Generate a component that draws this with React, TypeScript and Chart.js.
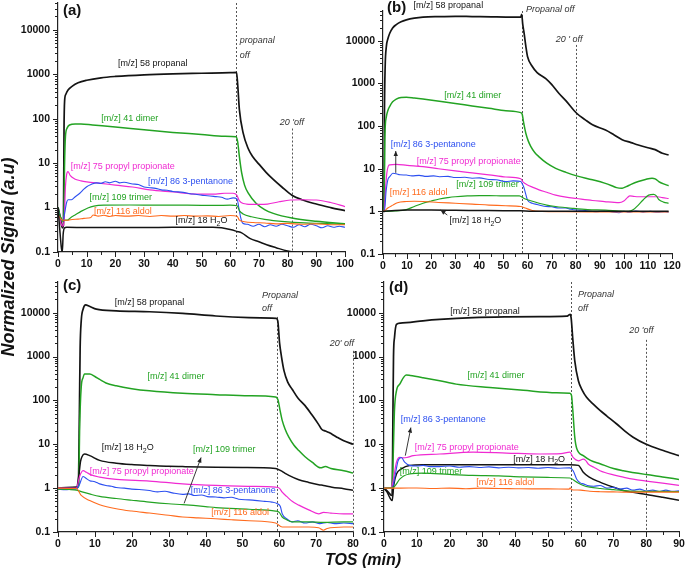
import React, { useEffect, useRef } from 'react';
import { Chart, registerables } from 'chart.js';

Chart.register(...registerables);

// ---------------- DATA (x = TOS min, y = normalized signal) ----------------
type P = [number, number];

// Panel (a)
const aPropanal: P[] = [[0,1.0],[0.8,0.6],[1.5,0.35],[1.9,0.4],[2.1,60],[2.3,250],[2.7,350],[3.5,440],[5,540],[7,640],[10,730],[15,830],[20,890],[30,970],[40,1020],[50,1050],[60,1080],[62.2,1100],[62.6,600],[63.2,160],[64.5,48],[66.3,21],[68,13.5],[70,9.5],[72.5,6.2],[75,4.3],[78,2.9],[81.5,1.9],[85,1.5],[90,1.2],[95,1.0],[100,0.85]];
const aDimer: P[] = [[0,1.0],[0.8,0.6],[1.5,0.5],[2.0,0.55],[2.3,10],[2.6,40],[3.2,62],[4,72],[6,76],[8,76],[12,72],[20,65],[30,56],[40,49],[50,44],[58,40],[62,39],[62.6,30],[63.2,14],[64,6],[65,3.2],[66.3,2.1],[69,1.25],[72,0.9],[75,0.74],[81.5,0.58],[90,0.49],[100,0.43]];
const aPropionate: P[] = [[0,0.9],[1,0.45],[1.6,0.38],[2.2,0.6],[2.6,3],[3.0,5.5],[3.5,6.4],[4.3,5.2],[5.8,4.4],[8,4.0],[10,3.8],[15,3.5],[20,3.2],[26,2.9],[32,2.5],[40,2.25],[49,2.0],[55,2.0],[58,2.1],[61,2.1],[62.3,1.9],[63,1.5],[63.8,1.3],[65.7,1.2],[70,1.18],[73,1.2],[77,1.35],[81,1.48],[85,1.5],[90,1.48],[95,1.3],[100,1.05]];
const aPentanone: P[] = [[0,0.9],[1,0.55],[1.8,0.5],[2.3,0.74],[3.0,1.3],[3.5,1.5],[4.7,1.5],[6,1.75],[7.6,2.1],[9,2.6],[10,2.95],[11.5,3.3],[13.4,3.6],[15,3.5],[16.5,3.8],[18,3.6],[20,3.9],[21.5,3.6],[23,3.7],[26,3.4],[28,3.3],[30,2.9],[32,2.8],[34,2.7],[36,2.5],[38,2.45],[40,2.3],[43.6,2.2],[46,2.05],[48,2.0],[50,1.9],[52,1.85],[55,1.76],[57,1.7],[59,1.55],[61,1.65],[62.4,1.55],[63,1.0],[63.6,0.62],[64.3,0.45],[66,0.42],[68,0.38],[70,0.42],[72,0.37],[74,0.41],[76,0.38],[78,0.42],[80,0.39],[82,0.36],[84,0.41],[86,0.37],[88,0.42],[90,0.39],[92,0.35],[94,0.39],[96,0.36],[98,0.38],[100,0.36]];
const aTrimer: P[] = [[0,0.8],[1,0.6],[1.8,0.5],[2.5,0.52],[3.5,0.53],[4.5,0.6],[5.8,0.67],[8,0.82],[10.4,0.98],[12.5,1.08],[16,1.13],[25,1.14],[35,1.13],[45,1.13],[55,1.12],[60,1.13],[62.4,1.1],[63.2,0.85],[64.5,0.72],[67.4,0.62],[72,0.54],[79,0.48],[86,0.45],[92,0.44],[100,0.42]];
const aAldol: P[] = [[0,0.7],[1,0.55],[2,0.52],[3.5,0.52],[5,0.54],[7,0.55],[9,0.57],[10.5,0.58],[11.5,0.6],[12.2,0.68],[14,0.64],[16,0.67],[18,0.63],[20,0.66],[24,0.64],[28,0.66],[32,0.63],[36,0.66],[40,0.64],[44,0.66],[48,0.64],[52,0.65],[56,0.63],[60,0.66],[62.4,0.64],[63.2,0.52],[65,0.48],[68,0.46],[72,0.45],[76,0.43],[80,0.44],[85,0.42],[90,0.43],[95,0.41],[100,0.41]];
const aWater: P[] = [[0,1.0],[0.5,0.4],[1.2,0.12],[1.5,0.1],[1.8,0.25],[2.3,0.35],[3,0.36],[10,0.355],[20,0.355],[30,0.355],[40,0.36],[50,0.36],[54,0.36],[57,0.35],[60,0.32],[62.4,0.29],[64,0.27],[67,0.2],[70,0.17],[72.7,0.146],[76,0.125],[80,0.105],[84,0.095],[90,0.085],[100,0.075]];

// Panel (b)
const bPropanal: P[] = [[0,1.0],[0.4,1.0],[0.6,200],[0.9,2500],[1.4,7400],[2,11000],[2.8,15000],[4,20000],[5.5,24000],[7.5,28000],[9.7,31000],[13,34000],[16.6,36000],[23.4,37000],[30,37500],[37,37000],[45,36500],[51,36000],[57.2,36000],[57.6,42000],[58,25000],[58.6,15000],[59.3,7500],[60,4300],[62,2500],[64,1800],[67.6,1300],[70,950],[73,590],[76,390],[80.4,200],[84,140],[87,107],[92.4,81],[96,62],[99.3,48],[103,41],[106,36],[110,31],[113,28],[116,23],[118.6,21]];
const bDimer: P[] = [[0,1.0],[0.4,1.0],[0.8,60],[1.4,166],[2,230],[2.8,290],[4,370],[5.5,430],[7.5,470],[9.7,475],[13,455],[16.6,430],[23.4,380],[30,340],[37,297],[44,262],[51,230],[57.2,207],[57.8,190],[58.4,120],[59.3,68],[60.3,45],[61.4,33],[63,24],[64.8,19],[68,13.5],[71.7,10.2],[76,8.2],[80.4,6.8],[87,5.5],[92,4.6],[95,4.0],[97,3.6],[99.3,3.5],[101,3.8],[103,4.3],[106,5.0],[109,5.6],[111.7,6.0],[113,5.8],[114.5,5.0],[116.5,4.4],[118.6,4.0]];
const bPropionate: P[] = [[0,1.0],[0.5,1.0],[1,3],[1.6,8],[2.2,11.5],[2.8,12.3],[5.5,12.7],[10,12.0],[16.6,11.2],[23,10],[30,8.9],[37,8],[44,7.2],[51,6.4],[57.2,5.8],[58,5.0],[59,4.5],[60,4.15],[62,3.7],[64.8,3.2],[68,2.8],[71.7,2.4],[76,2.15],[80.4,2.0],[87,1.8],[92,1.7],[96,1.62],[98,1.6],[100,1.75],[101.5,2.1],[102.5,2.3],[104,2.25],[106,2.2],[110,2.2],[114,2.2],[116,2.1],[118.6,2.0]];
const bPentanone: P[] = [[0,1.0],[0.6,1.0],[1.3,3],[2,5.5],[2.8,6.5],[4.1,7.8],[5.5,7.6],[7,7.2],[9.7,7.1],[12,6.8],[15,7.0],[18,6.6],[21,6.8],[23.4,6.5],[27,6.6],[30,6.2],[34,6.3],[37,6.0],[40,6.1],[44,5.6],[47,5.5],[51,5.0],[54,5.2],[57.2,5.0],[58,4.2],[58.6,3.5],[59.3,2.5],[60,1.85],[62,1.55],[64,1.45],[66,1.35],[67.6,1.3],[70,1.28],[73,1.2],[75.9,1.2],[78,1.12],[81.4,1.07],[84,1.05],[88,0.98],[92,1.02],[95,0.97],[98,0.93],[100,1.0],[102,0.95],[105,1.02],[108,0.96],[111,1.0],[114,0.95],[117,0.98],[118.6,0.95]];
const bTrimer: P[] = [[0,1.0],[5,1.02],[9.7,1.1],[13,1.3],[16.6,1.55],[20,1.75],[23.4,1.95],[27,2.1],[30,2.2],[35,2.3],[40,2.35],[44,2.35],[50,2.3],[56.6,2.3],[58.6,2.0],[61,1.8],[64.8,1.55],[68,1.4],[71.7,1.3],[78.6,1.18],[85,1.1],[92.4,1.07],[98,1.02],[102,1.0],[104,1.1],[106,1.4],[108,1.85],[110.3,2.4],[112.4,2.5],[113.5,2.3],[114.5,1.9],[116.5,1.65],[118.6,1.55]];
const bAldol: P[] = [[0,1.0],[0.6,1.03],[2,1.2],[4.1,1.4],[6,1.6],[9.7,1.7],[13,1.72],[16.6,1.7],[23,1.62],[30,1.55],[37,1.48],[44,1.4],[51,1.35],[57.2,1.3],[59,1.2],[62,1.05],[66,1.0],[75,0.98],[85,0.97],[95,0.97],[105,0.97],[118.6,0.97]];
const bWater: P[] = [[0,1.0],[5,1.05],[10,1.07],[20,1.07],[30,1.06],[40,1.05],[50,1.04],[57,1.03],[62,1.0],[80,1.0],[100,1.0],[118.6,1.0]];

// Panel (c)
const cPropanal: P[] = [[0,1.0],[5,1.05],[5.5,1.1],[5.8,50],[6.0,1500],[6.3,6500],[6.8,12000],[7.5,15000],[8.5,14000],[10.4,12000],[15.8,11000],[24.8,10500],[33.8,9600],[42.8,8400],[51.8,7700],[58,7500],[59.2,7400],[59.6,6500],[60.1,2000],[60.6,1000],[61.3,470],[62.3,260],[63.5,180],[65,115],[67,76],[69,45],[70.7,28],[71.5,22],[72.5,20],[73.5,18.5],[74.3,17],[76,14],[77.5,12],[80,10]];
const cDimer: P[] = [[0,1.0],[5,1.0],[5.6,1.1],[5.9,30],[6.3,200],[6.8,330],[7.2,400],[8.6,400],[10,350],[11.3,300],[13,250],[15.8,215],[20,185],[24.8,165],[33.8,145],[42.8,135],[51.8,127],[59,120],[59.7,100],[60.2,60],[60.8,35],[61.6,22],[62.6,14.5],[64,9.5],[65.3,7.2],[67,5.2],[68.9,3.9],[71.2,2.9],[72.5,3.1],[74,2.8],[77.5,2.5],[80,2.2]];
const cWater: P[] = [[0,1.0],[5,1.02],[5.6,1.8],[6.1,4],[6.5,5.2],[7.2,6.0],[8.6,5.5],[11.3,4.3],[15.8,3.7],[20,3.45],[24.8,3.3],[30,3.15],[33.8,3.1],[42.8,3.0],[50,2.95],[59,2.8],[60.4,2.5],[61.5,2.2],[62.6,1.95],[65.3,1.55],[68,1.35],[70.7,1.2],[72,1.15],[74.3,1.05],[77.5,0.97],[80,0.9]];
const cPropionate: P[] = [[0,1.0],[5,1.0],[5.8,1.8],[6.8,2.5],[7.7,2.3],[9,2.0],[11.3,1.78],[15.8,1.58],[24.8,1.45],[33.8,1.25],[42.8,1.15],[51.8,1.1],[59,1.05],[60,1.0],[60.8,0.81],[62,0.65],[63.5,0.5],[65.3,0.41],[68,0.32],[70.7,0.26],[72,0.28],[74,0.27],[77.5,0.26],[80,0.26]];
const cPentanone: P[] = [[0,0.95],[2,0.92],[4,0.95],[5,0.96],[5.8,1.2],[6.8,1.84],[7.5,1.7],[8.6,1.48],[10,1.4],[11.3,1.25],[13,1.15],[14.5,1.1],[15.8,1.03],[18,1.0],[20,0.95],[22,0.93],[24.8,0.88],[27,0.82],[29,0.85],[31,0.78],[33.8,0.72],[35.5,0.74],[37,0.68],[39,0.7],[40.5,0.64],[42.8,0.63],[45,0.6],[47,0.62],[49,0.56],[51.8,0.54],[54,0.52],[56,0.5],[58,0.48],[59.5,0.44],[60.3,0.38],[60.8,0.26],[62,0.2],[63.5,0.17],[65,0.18],[67,0.16],[69,0.17],[71,0.155],[73,0.165],[75,0.155],[77.5,0.16],[80,0.155]];
const cTrimer: P[] = [[0,0.95],[3,0.93],[5,0.9],[6.8,0.81],[9,0.72],[11.3,0.65],[15.8,0.58],[20,0.53],[24.8,0.48],[30,0.44],[33.8,0.42],[40,0.38],[42.8,0.36],[51.8,0.33],[59,0.3],[60,0.28],[60.8,0.22],[62,0.19],[63.5,0.17],[68,0.17],[72,0.165],[77.5,0.17],[80,0.17]];
const cAldol: P[] = [[0,1.0],[4,0.98],[5,0.98],[6.3,0.68],[8.6,0.52],[11.3,0.42],[15.8,0.34],[20,0.3],[24.8,0.27],[30,0.24],[33.8,0.22],[38,0.21],[42.8,0.2],[47,0.19],[51.8,0.18],[59,0.16],[60.8,0.13],[64,0.13],[68,0.13],[70.7,0.125],[72,0.11],[73,0.12],[77.5,0.13],[80,0.13]];

// Panel (d)
const dPropanal: P[] = [[0,1.0],[0.7,0.9],[1.7,0.75],[2.2,0.68],[2.5,0.7],[2.7,30],[2.9,1000],[3.2,2700],[3.8,5400],[5,5800],[6.8,5900],[11.9,6500],[17,7000],[27.2,7700],[37.4,8000],[47.6,8100],[55.7,8300],[56.4,8800],[56.8,9200],[57.1,7500],[57.6,2500],[58.2,800],[59.3,280],[60.5,170],[61.8,118],[64,80],[65.9,59],[68,44],[71,29],[73.5,20],[76,14.5],[80,10],[85.2,7.2],[90,5.5]];
const dDimer: P[] = [[0,1.0],[2.5,1.0],[2.8,5],[3.2,60],[3.8,165],[4.8,235],[6.8,380],[8,370],[11.9,330],[17,280],[22,235],[32.3,197],[42.5,170],[52.6,150],[56.7,145],[57.2,130],[57.6,60],[58.2,14.5],[58.8,8],[60.8,5.5],[63,4.3],[65.9,3.6],[70,2.8],[73,2.5],[80,2.04],[85,1.8],[90,1.58]];
const dPropionate: P[] = [[0,1.0],[2.2,1.0],[2.8,1.5],[3.8,3.9],[4.8,5.0],[5.8,4.9],[7,5.0],[8.9,5.5],[17,6.0],[27.2,6.6],[37.4,6.3],[47.6,6.0],[54,6.1],[56.7,6.6],[57.7,5.0],[59.3,4.2],[60.8,4.6],[61.5,4.3],[62.3,3.55],[64,3.0],[65.9,2.5],[70,2.0],[73,1.78],[76,1.6],[80,1.45],[85,1.3],[90,1.15]];
const dPentanone: P[] = [[0,1.0],[2,1.0],[2.5,0.98],[3.3,1.78],[4.3,4.2],[5.3,5.0],[6.3,3.9],[7.8,3.3],[10,3.2],[12,3.3],[14,3.1],[17,3.1],[20,3.2],[23,3.0],[26,3.1],[29,2.95],[32,3.05],[35,2.9],[38,3.0],[41,2.9],[44,2.95],[47,2.85],[50,2.95],[53,2.85],[56.7,2.9],[57.7,2.5],[58.8,1.6],[60,1.3],[60.8,1.25],[62,1.15],[64,1.1],[65.9,1.15],[68,1.0],[70,1.05],[72,0.95],[74,1.0],[76,0.9],[78,0.95],[80,0.86],[82,0.9],[84,0.84],[86,0.9],[88,0.85],[90,0.87]];
const dTrimer: P[] = [[0,1.0],[2.75,1.03],[4.8,1.6],[6,1.9],[7.8,2.1],[11.9,2.2],[20,2.05],[27,1.95],[35,1.9],[42,1.8],[50,1.75],[56.7,1.7],[58.8,1.37],[60.8,1.15],[62.8,1.05],[66,0.98],[70,0.92],[73,0.88],[80,0.84],[85,0.84],[90,0.83]];
const dAldol: P[] = [[0,1.0],[5,1.0],[10,1.01],[15,0.98],[20,1.0],[25,0.97],[30,1.0],[35,0.98],[40,0.97],[45,0.96],[50,0.96],[56.5,0.95],[56.8,1.02],[57.2,0.93],[57.7,0.91],[60,0.9],[62.8,0.85],[66,0.83],[70,0.82],[73,0.81],[80,0.81],[90,0.81]];
const dWater: P[] = [[0,1.0],[1,0.8],[1.7,0.62],[2.5,0.52],[3,1.2],[3.8,2.1],[5.3,2.75],[7.8,3.3],[12,3.4],[20,3.4],[30,3.4],[40,3.4],[50,3.4],[56.7,3.4],[59.3,3.3],[60.8,2.3],[62.5,1.8],[65.9,1.37],[70,1.05],[73,0.88],[76,0.8],[80,0.72],[85,0.62],[90,0.53]];

// axis ticks
const yDecades = [0.1, 1, 10, 100, 1000, 10000];
const xStep = 5;
const xLabelStep = 10;

// ---------------- STYLE ----------------
const BLACK = '#141414';
const GREEN = '#23a323';
const MAGENTA = '#f02ad2';
const BLUE = '#2d50f0';
const ORANGE = '#ff6b1e';
const FONT = '"Liberation Sans", Arial, Helvetica, sans-serif';
const MAJOR_TICK = 5;
const MINOR_TICK = 3;

type TextAnn = { x: number; y: number; text: string; color: string; align?: CanvasTextAlign; italic?: boolean };
type VLine = { x: number; top?: number };
type Arrow = { x1: number; y1: number; x2: number; y2: number; color: string };
type PanelAnn = { tag: string; tagDx: number; tagDy: number; vlines: VLine[]; texts: TextAnn[]; arrows: Arrow[] };

type SeriesSpec = { data: P[]; color: string; width: number };
type PanelSpec = {
  left: number; top: number; w: number; h: number;
  pad: { top: number; right: number };
  yWidth: number; xHeight: number;
  xMax: number; yMax: number;
  series: SeriesSpec[];
  ann: PanelAnn;
};

const H2O = '[m/z] 18 H\u2082O';

const panels: PanelSpec[] = [
  {
    left: 0, top: 0, w: 362, h: 275, pad: { top: 3, right: 17 }, yWidth: 58, xHeight: 23, xMax: 100, yMax: 40000,
    series: [
      { data: aWater, color: BLACK, width: 1.5 },
      { data: aAldol, color: ORANGE, width: 1.1 },
      { data: aTrimer, color: GREEN, width: 1.2 },
      { data: aPentanone, color: BLUE, width: 1.1 },
      { data: aPropionate, color: MAGENTA, width: 1.2 },
      { data: aDimer, color: GREEN, width: 1.5 },
      { data: aPropanal, color: BLACK, width: 1.7 },
    ],
    ann: {
      tag: '(a)', tagDx: 5, tagDy: 8,
      vlines: [{ x: 62 }, { x: 81.5, top: 60 }],
      texts: [
        { x: 33, y: 1700, text: '[m/z] 58 propanal', color: BLACK },
        { x: 63.3, y: 5700, text: 'propanal', color: '#333', align: 'left', italic: true },
        { x: 63.3, y: 2700, text: 'off', color: '#333', align: 'left', italic: true },
        { x: 25, y: 100, text: '[m/z] 41 dimer', color: GREEN },
        { x: 81.5, y: 80, text: "20 'off", color: '#333', italic: true },
        { x: 4.4, y: 8.4, text: '[m/z] 75 propyl propionate', color: MAGENTA, align: 'left' },
        { x: 46.2, y: 3.9, text: '[m/z] 86 3-pentanone', color: BLUE },
        { x: 21.9, y: 1.7, text: '[m/z] 109 trimer', color: GREEN },
        { x: 22.6, y: 0.83, text: '[m/z] 116 aldol', color: ORANGE },
        { x: 50, y: 0.5, text: H2O, color: BLACK },
      ],
      arrows: [],
    },
  },
  {
    left: 330, top: 0, w: 355, h: 278, pad: { top: 11, right: 13 }, yWidth: 53, xHeight: 24, xMax: 120, yMax: 50000,
    series: [
      { data: bWater, color: BLACK, width: 1.5 },
      { data: bAldol, color: ORANGE, width: 1.1 },
      { data: bTrimer, color: GREEN, width: 1.2 },
      { data: bPentanone, color: BLUE, width: 1.1 },
      { data: bPropionate, color: MAGENTA, width: 1.2 },
      { data: bDimer, color: GREEN, width: 1.5 },
      { data: bPropanal, color: BLACK, width: 1.7 },
    ],
    ann: {
      tag: '(b)', tagDx: 4, tagDy: -3,
      vlines: [{ x: 57.7 }, { x: 80, top: 8000 }],
      texts: [
        { x: 12.7, y: 66000, text: '[m/z] 58 propanal', color: BLACK, align: 'left' },
        { x: 59.4, y: 54000, text: 'Propanal off', color: '#333', align: 'left', italic: true },
        { x: 77.3, y: 11000, text: "20 ' off", color: '#333', italic: true },
        { x: 37.3, y: 510, text: '[m/z] 41 dimer', color: GREEN },
        { x: 3.2, y: 36, text: '[m/z] 86 3-pentanone', color: BLUE, align: 'left' },
        { x: 14, y: 15, text: '[m/z] 75 propyl propionate', color: MAGENTA, align: 'left' },
        { x: 2.8, y: 2.7, text: '[m/z] 116 aldol', color: ORANGE, align: 'left' },
        { x: 30.4, y: 4.2, text: '[m/z] 109 trimer', color: GREEN, align: 'left' },
        { x: 27.6, y: 0.6, text: H2O, color: BLACK, align: 'left' },
      ],
      arrows: [
        { x1: 5.3, y1: 8, x2: 5.3, y2: 26, color: '#222' },
        { x1: 26.7, y1: 0.82, x2: 23.9, y2: 1.08, color: '#222' },
      ],
    },
  },
  {
    left: 0, top: 270, w: 362, h: 285, pad: { top: 12, right: 9 }, yWidth: 58, xHeight: 23, xMax: 80, yMax: 50000,
    series: [
      { data: cAldol, color: ORANGE, width: 1.1 },
      { data: cTrimer, color: GREEN, width: 1.2 },
      { data: cPentanone, color: BLUE, width: 1.1 },
      { data: cPropionate, color: MAGENTA, width: 1.2 },
      { data: cWater, color: BLACK, width: 1.5 },
      { data: cDimer, color: GREEN, width: 1.5 },
      { data: cPropanal, color: BLACK, width: 1.7 },
    ],
    ann: {
      tag: '(c)', tagDx: 5, tagDy: 4,
      vlines: [{ x: 59.5, top: 8000 }, { x: 80, top: 1350 }],
      texts: [
        { x: 24.8, y: 17000, text: '[m/z] 58 propanal', color: BLACK },
        { x: 55.3, y: 25000, text: 'Propanal', color: '#333', align: 'left', italic: true },
        { x: 55.3, y: 12600, text: 'off', color: '#333', align: 'left', italic: true },
        { x: 77, y: 2000, text: "20' off", color: '#333', italic: true },
        { x: 32, y: 350, text: '[m/z] 41 dimer', color: GREEN },
        { x: 18.9, y: 8.3, text: H2O, color: BLACK },
        { x: 45.1, y: 7.5, text: '[m/z] 109 trimer', color: GREEN },
        { x: 8.6, y: 2.43, text: '[m/z] 75 propyl propionate', color: MAGENTA, align: 'left' },
        { x: 47.5, y: 0.89, text: '[m/z] 86 3-pentanone', color: BLUE },
        { x: 49.4, y: 0.28, text: '[m/z] 116 aldol', color: ORANGE },
      ],
      arrows: [{ x1: 34.2, y1: 0.45, x2: 38.8, y2: 5, color: '#222' }],
    },
  },
  {
    left: 330, top: 270, w: 355, h: 285, pad: { top: 12, right: 6 }, yWidth: 54, xHeight: 23, xMax: 90, yMax: 50000,
    series: [
      { data: dAldol, color: ORANGE, width: 1.1 },
      { data: dTrimer, color: GREEN, width: 1.2 },
      { data: dPentanone, color: BLUE, width: 1.1 },
      { data: dPropionate, color: MAGENTA, width: 1.2 },
      { data: dWater, color: BLACK, width: 1.5 },
      { data: dDimer, color: GREEN, width: 1.5 },
      { data: dPropanal, color: BLACK, width: 1.7 },
    ],
    ann: {
      tag: '(d)', tagDx: 5, tagDy: 6,
      vlines: [{ x: 57 }, { x: 80, top: 2400 }],
      texts: [
        { x: 30.8, y: 10700, text: '[m/z] 58 propanal', color: BLACK },
        { x: 59.2, y: 26000, text: 'Propanal', color: '#333', align: 'left', italic: true },
        { x: 59.2, y: 12600, text: 'off', color: '#333', align: 'left', italic: true },
        { x: 78.5, y: 4000, text: "20 'off", color: '#333', italic: true },
        { x: 34.2, y: 365, text: '[m/z] 41 dimer', color: GREEN },
        { x: 5.1, y: 36, text: '[m/z] 86 3-pentanone', color: BLUE, align: 'left' },
        { x: 9.4, y: 8.4, text: '[m/z] 75 propyl propionate', color: MAGENTA, align: 'left' },
        { x: 39.4, y: 4.5, text: H2O, color: BLACK, align: 'left' },
        { x: 4.8, y: 2.37, text: '[m/z] 109 trimer', color: GREEN, align: 'left' },
        { x: 37, y: 1.35, text: '[m/z] 116 aldol', color: ORANGE },
      ],
      arrows: [{ x1: 6.5, y1: 5.5, x2: 8.2, y2: 24, color: '#222' }],
    },
  },
];

// ---------------- helpers ----------------
function isDecade(v: number) {
  const l = Math.log10(v);
  return Math.abs(l - Math.round(l)) < 1e-6;
}

function drawLabel(ctx: CanvasRenderingContext2D, t: TextAnn, px: number, py: number) {
  const size = 9;
  const font = `${t.italic ? 'italic ' : ''}${size}px ${FONT}`;
  const subFont = `${t.italic ? 'italic ' : ''}${size - 2}px ${FONT}`;
  const align = t.align || 'center';
  ctx.fillStyle = t.color;
  ctx.textBaseline = 'middle';
  const parts = t.text.split('\u2082');
  if (parts.length === 1) {
    ctx.font = font;
    ctx.textAlign = align;
    ctx.fillText(t.text, px, py);
    return;
  }
  ctx.font = font;
  const w1 = ctx.measureText(parts[0]).width;
  const w3 = ctx.measureText(parts[1]).width;
  ctx.font = subFont;
  const w2 = ctx.measureText('2').width;
  const total = w1 + w2 + w3;
  const sx = align === 'center' ? px - total / 2 : align === 'right' ? px - total : px;
  ctx.textAlign = 'left';
  ctx.font = font;
  ctx.fillText(parts[0], sx, py);
  ctx.font = subFont;
  ctx.fillText('2', sx + w1, py + 3);
  ctx.font = font;
  ctx.fillText(parts[1], sx + w1 + w2, py);
}

function annPlugin(ann: PanelAnn) {
  return {
    id: 'panelAnn',
    beforeDatasetsDraw(chart: any) {
      const { ctx, chartArea, scales } = chart;
      const x = scales.x, y = scales.y;
      ctx.save();
      ctx.strokeStyle = '#555';
      ctx.lineWidth = 1;
      ctx.setLineDash([2, 2]);
      for (const v of ann.vlines) {
        const px = Math.round(x.getPixelForValue(v.x)) + 0.5;
        const top = v.top == null ? chartArea.top : y.getPixelForValue(v.top);
        ctx.beginPath();
        ctx.moveTo(px, top);
        ctx.lineTo(px, chartArea.bottom);
        ctx.stroke();
      }
      ctx.restore();
    },
    afterDatasetsDraw(chart: any) {
      const { ctx, chartArea, scales } = chart;
      const x = scales.x, y = scales.y;
      ctx.save();
      for (const a of ann.arrows) {
        const x1 = x.getPixelForValue(a.x1), y1 = y.getPixelForValue(a.y1);
        const x2 = x.getPixelForValue(a.x2), y2 = y.getPixelForValue(a.y2);
        ctx.strokeStyle = a.color;
        ctx.fillStyle = a.color;
        ctx.lineWidth = 0.9;
        ctx.beginPath();
        ctx.moveTo(x1, y1);
        ctx.lineTo(x2, y2);
        ctx.stroke();
        const ang = Math.atan2(y2 - y1, x2 - x1);
        const L = 5, Wd = 2.2;
        ctx.beginPath();
        ctx.moveTo(x2, y2);
        ctx.lineTo(x2 - L * Math.cos(ang) + Wd * Math.sin(ang), y2 - L * Math.sin(ang) - Wd * Math.cos(ang));
        ctx.lineTo(x2 - L * Math.cos(ang) - Wd * Math.sin(ang), y2 - L * Math.sin(ang) + Wd * Math.cos(ang));
        ctx.closePath();
        ctx.fill();
      }
      for (const t of ann.texts) {
        drawLabel(ctx, t, x.getPixelForValue(t.x), y.getPixelForValue(t.y));
      }
      ctx.fillStyle = '#111';
      ctx.font = `bold 15px ${FONT}`;
      ctx.textAlign = 'left';
      ctx.textBaseline = 'middle';
      ctx.fillText(ann.tag, chartArea.left + ann.tagDx, chartArea.top + ann.tagDy);
      ctx.restore();
    },
    afterDraw(chart: any) {
      // outward tick marks: long at labelled values, short in between
      const { ctx, chartArea, scales } = chart;
      const x = scales.x, y = scales.y;
      ctx.save();
      ctx.strokeStyle = '#222';
      ctx.lineWidth = 1;
      ctx.beginPath();
      for (const t of x.ticks) {
        const px = Math.round(x.getPixelForValue(t.value)) + 0.5;
        const len = t.value % xLabelStep === 0 ? MAJOR_TICK : MINOR_TICK;
        ctx.moveTo(px, chartArea.bottom);
        ctx.lineTo(px, chartArea.bottom + len);
      }
      for (const t of y.ticks) {
        const py = Math.round(y.getPixelForValue(t.value)) + 0.5;
        const len = isDecade(t.value) ? MAJOR_TICK : MINOR_TICK;
        ctx.moveTo(chartArea.left, py);
        ctx.lineTo(chartArea.left - len, py);
      }
      ctx.stroke();
      ctx.restore();
    },
  };
}

function Panel({ spec }: { spec: PanelSpec }) {
  const ref = useRef<HTMLCanvasElement>(null);
  useEffect(() => {
    const canvas = ref.current;
    if (!canvas) return;
    const tickFont = { family: FONT, size: 10.5, weight: 'bold' as const };
    const chart = new Chart(canvas, {
      type: 'line',
      data: {
        datasets: spec.series.map((s) => ({
          data: s.data as any,
          borderColor: s.color,
          backgroundColor: s.color,
          borderWidth: s.width,
          pointRadius: 0,
          fill: false,
          cubicInterpolationMode: 'monotone' as const,
        })),
      },
      options: {
        animation: false,
        responsive: false,
        devicePixelRatio: 1,
        events: [],
        layout: { padding: { top: spec.pad.top, right: spec.pad.right, left: 0, bottom: 0 } },
        plugins: { legend: { display: false }, tooltip: { enabled: false }, title: { display: false } },
        scales: {
          x: {
            type: 'linear',
            min: 0,
            max: spec.xMax,
            border: { display: true, color: '#222', width: 1.2 },
            grid: { display: false, drawTicks: false },
            ticks: {
              stepSize: xStep,
              autoSkip: false,
              maxRotation: 0,
              padding: 6,
              color: '#111',
              font: tickFont,
              callback: (v: any) => (Number(v) % xLabelStep === 0 ? String(v) : ''),
            },
            afterFit: (scale: any) => {
              scale.height = spec.xHeight;
              scale.paddingLeft = 0;
              scale.paddingRight = 0;
            },
          },
          y: {
            type: 'logarithmic',
            min: yDecades[0],
            max: spec.yMax,
            border: { display: true, color: '#222', width: 1.2 },
            grid: { display: false, drawTicks: false },
            ticks: {
              autoSkip: false,
              padding: 8,
              color: '#111',
              font: tickFont,
              callback: (v: any) => (isDecade(Number(v)) ? String(v) : ''),
            },
            afterBuildTicks: (scale: any) => {
              const ticks: { value: number }[] = [];
              for (const d of yDecades) {
                for (let k = 1; k <= 9; k++) {
                  const v = Number((d * k).toPrecision(6));
                  if (v <= spec.yMax) ticks.push({ value: v });
                }
              }
              scale.ticks = ticks;
            },
            afterFit: (scale: any) => {
              scale.width = spec.yWidth;
              scale.paddingTop = 0;
              scale.paddingBottom = 0;
            },
          },
        },
      },
      plugins: [annPlugin(spec.ann)],
    } as any);
    return () => chart.destroy();
  }, [spec]);
  return (
    <canvas
      ref={ref}
      width={spec.w}
      height={spec.h}
      style={{ position: 'absolute', left: spec.left, top: spec.top, width: spec.w, height: spec.h }}
    />
  );
}

export default function App() {
  return (
    <div style={{ position: 'absolute', left: 0, top: 0, width: 685, height: 575, overflow: 'hidden', background: '#fff' }}>
      {panels.map((p, i) => (
        <Panel key={i} spec={p} />
      ))}
      <div
        style={{
          position: 'absolute', left: 9 - 150, top: 257 - 11, width: 300, height: 22, lineHeight: '22px',
          textAlign: 'center', transform: 'rotate(-90deg)', color: '#111',
          font: `italic bold 18px ${FONT}`, whiteSpace: 'nowrap',
        }}
      >
        Normalized Signal (a.u)
      </div>
      <div
        style={{
          position: 'absolute', left: 363 - 80, top: 562 - 11, width: 160, height: 22, lineHeight: '22px',
          textAlign: 'center', color: '#111', font: `italic bold 16px ${FONT}`, whiteSpace: 'nowrap',
        }}
      >
        TOS (min)
      </div>
    </div>
  );
}
